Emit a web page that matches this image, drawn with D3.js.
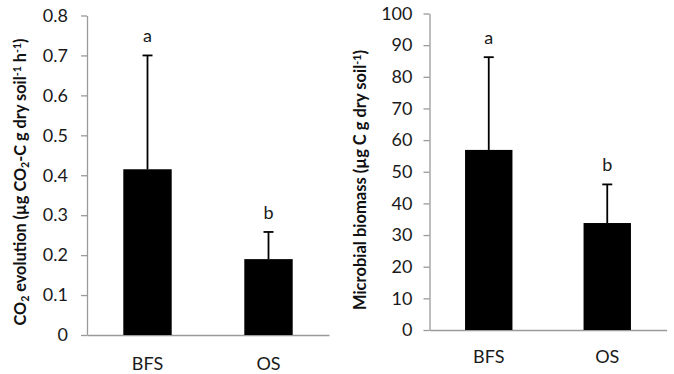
<!DOCTYPE html>
<html>
<head>
<meta charset="utf-8">
<script src="https://cdn.jsdelivr.net/npm/d3@7"></script>
<style>
  html, body { margin: 0; padding: 0; background: #fff; }
  svg { display: block; font-family: Lato, "Open Sans", sans-serif; }
</style>
</head>
<body>
<svg id="chart" width="674" height="374"></svg>
<script>
const categories = ["BFS", "OS"];
const co2Mean = [0.415, 0.19];
const co2Err = [0.285, 0.068];
const co2Letters = ["a", "b"];
const co2Ticks = [0, 0.1, 0.2, 0.3, 0.4, 0.5, 0.6, 0.7, 0.8];

const biomassMean = [56.9, 33.8];
const biomassErr = [29.3, 12.2];
const biomassLetters = ["a", "b"];
const biomassTicks = [0, 10, 20, 30, 40, 50, 60, 70, 80, 90, 100];

const svg = d3.select("#chart");
const axisColor = "#9a9a9a";
const labelSize = 18;

function drawPanel(cfg) {
  const g = svg.append("g");
  const x = d3.scaleBand().domain(categories).range([cfg.x0, cfg.x1]).paddingInner(0.6).paddingOuter(0.3);
  const y = d3.scaleLinear().domain([0, cfg.max]).range([cfg.y0, cfg.y1]);

  // y axis
  const yAxis = g.append("g").attr("transform", `translate(${cfg.x0},0)`)
    .call(d3.axisLeft(y).tickValues(cfg.ticks).tickSize(6).tickSizeOuter(0).tickPadding(cfg.tickPad).tickFormat(cfg.fmt));
  yAxis.selectAll("path, line").attr("stroke", axisColor).attr("stroke-width", 1.3);
  yAxis.selectAll("text").attr("font-size", labelSize).attr("fill", "#1a1a1a").attr("font-family", "Lato, sans-serif");

  // x axis
  const xAxis = g.append("g").attr("transform", `translate(0,${cfg.y0})`)
    .call(d3.axisBottom(x).tickSize(0).tickPadding(cfg.catPad));
  xAxis.select(".domain").attr("stroke", axisColor).attr("stroke-width", 1.3);
  xAxis.selectAll("text").attr("font-size", labelSize).attr("fill", "#1a1a1a").attr("font-family", "Lato, sans-serif");

  const data = categories.map((c, i) => ({ c, m: cfg.mean[i], e: cfg.err[i], l: cfg.letters[i] }));

  // error bars
  const eb = g.append("g").selectAll("g").data(data).join("g");
  eb.append("line")
    .attr("x1", d => x(d.c) + x.bandwidth() / 2)
    .attr("x2", d => x(d.c) + x.bandwidth() / 2)
    .attr("y1", d => y(d.m)).attr("y2", d => y(d.m + d.e))
    .attr("stroke", "#000").attr("stroke-width", 1.8);
  eb.append("line")
    .attr("x1", d => x(d.c) + x.bandwidth() / 2 - 5)
    .attr("x2", d => x(d.c) + x.bandwidth() / 2 + 5)
    .attr("y1", d => y(d.m + d.e)).attr("y2", d => y(d.m + d.e))
    .attr("stroke", "#000").attr("stroke-width", 1.8);

  // bars
  g.append("g").selectAll("rect").data(data).join("rect")
    .attr("x", d => x(d.c)).attr("width", x.bandwidth())
    .attr("y", d => y(d.m)).attr("height", d => y(0) - y(d.m))
    .attr("fill", "#000");

  // letters
  g.append("g").selectAll("text").data(data).join("text")
    .attr("x", d => x(d.c) + x.bandwidth() / 2)
    .attr("y", d => y(d.m + d.e) - 13)
    .attr("text-anchor", "middle").attr("font-size", labelSize).attr("fill", "#1a1a1a")
    .text(d => d.l);

  // title
  const t = svg.append("text")
    .attr("transform", `translate(${cfg.tx},${cfg.ty}) rotate(-90)`)
    .attr("text-anchor", "middle")
    .attr("font-size", cfg.tsize).attr("font-weight", "bold").attr("fill", "#111");
  cfg.title.forEach(p => {
    const s = t.append("tspan").text(p.t);
    if (p.sub) s.attr("font-size", cfg.tsize * 0.65).attr("baseline-shift", "-25%");
    if (p.sup) s.attr("font-size", cfg.tsize * 0.65).attr("baseline-shift", "45%");
  });
}

drawPanel({
  x0: 87, x1: 329, y0: 335, y1: 15.5, max: 0.8,
  ticks: co2Ticks, fmt: d => d === 0 ? "0" : d3.format(".1f")(d), tickPad: 13, catPad: 22,
  mean: co2Mean, err: co2Err, letters: co2Letters,
  tx: 26, ty: 182, tsize: 16.3,
  title: [
    { t: "CO" }, { t: "2", sub: true }, { t: " evolution (µg CO" }, { t: "2", sub: true },
    { t: "-C g dry soil" }, { t: "-1", sup: true }, { t: " h" }, { t: "-1", sup: true }, { t: ")" }
  ]
});

drawPanel({
  x0: 429.5, x1: 666.5, y0: 330, y1: 13.5, max: 100,
  ticks: biomassTicks, fmt: d3.format("d"), tickPad: 11, catPad: 20,
  mean: biomassMean, err: biomassErr, letters: biomassLetters,
  tx: 366, ty: 180, tsize: 16.5,
  title: [
    { t: "Microbial biomass (µg C g dry soil" }, { t: "-1", sup: true }, { t: ")" }
  ]
});
</script>
</body>
</html>
